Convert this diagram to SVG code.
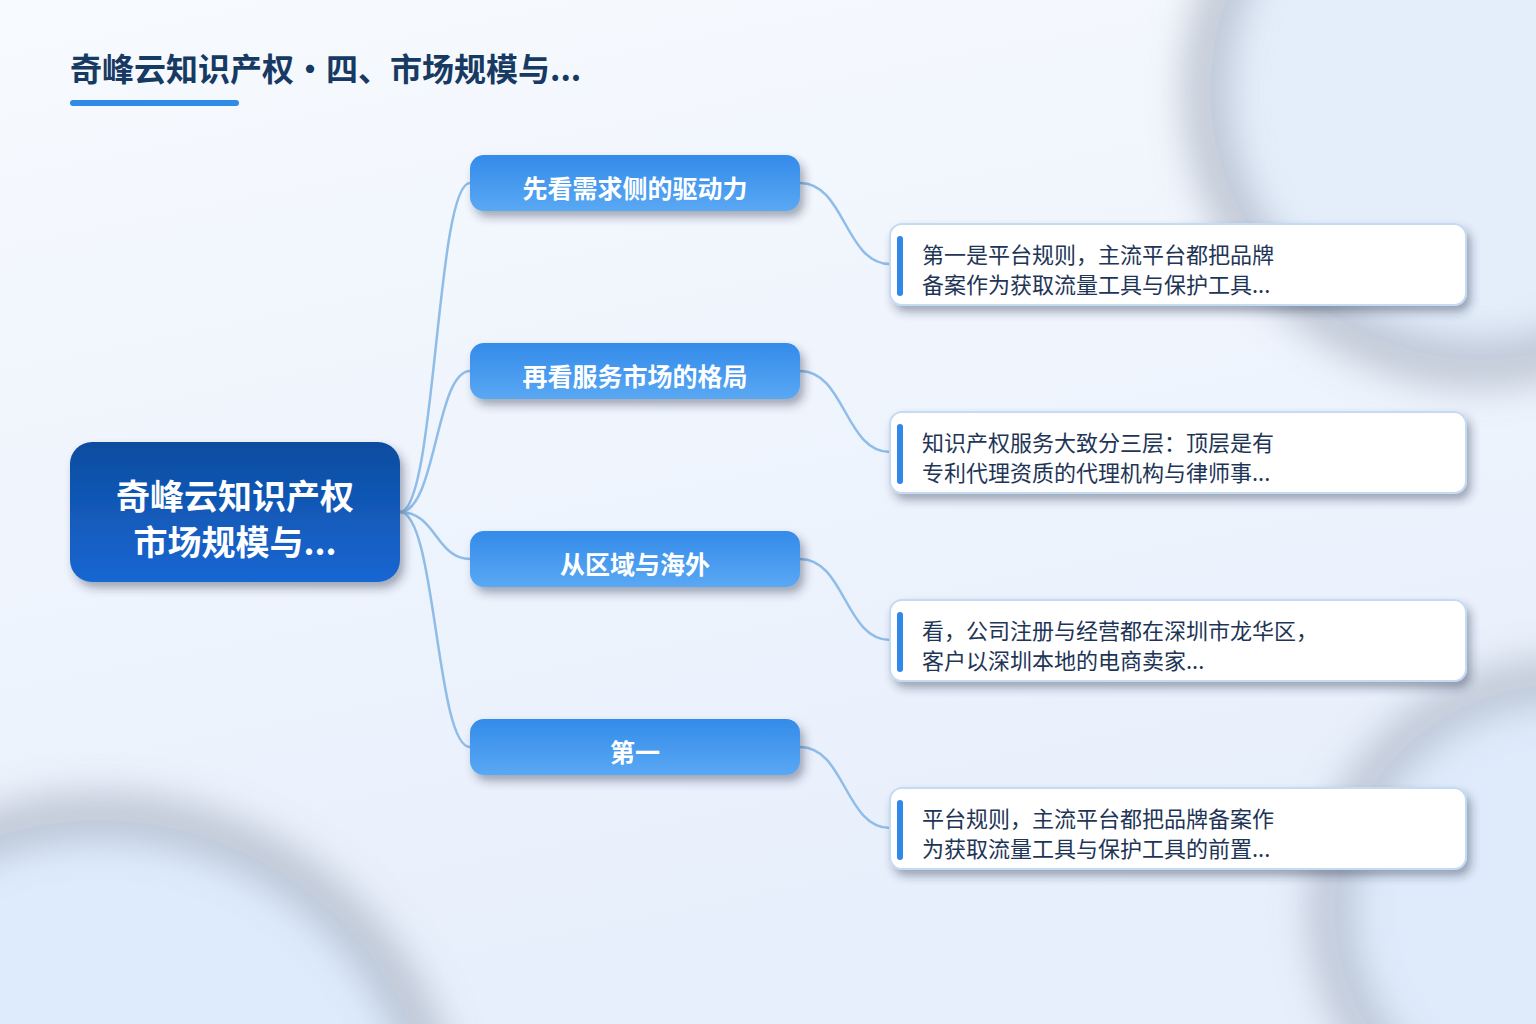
<svg xmlns="http://www.w3.org/2000/svg" width="1536" height="1024" viewBox="0 0 1536 1024">
<defs>
<linearGradient id="bg" x1="0" y1="0" x2="0.3" y2="1">
<stop offset="0" stop-color="#f7fafe"/>
<stop offset="1" stop-color="#e7effc"/>
</linearGradient>
<linearGradient id="rootG" x1="0" y1="0" x2="0" y2="1">
<stop offset="0" stop-color="#0d4c9f"/>
<stop offset="1" stop-color="#1767d3"/>
</linearGradient>
<linearGradient id="brG" x1="0" y1="0" x2="0" y2="1">
<stop offset="0" stop-color="#338be9"/>
<stop offset="1" stop-color="#5aa8f4"/>
</linearGradient>
<filter id="blurRing" x="-30%" y="-30%" width="160%" height="160%">
<feGaussianBlur stdDeviation="20"/>
</filter>
<filter id="sh" x="-10%" y="-20%" width="125%" height="160%">
<feDropShadow dx="4" dy="6" stdDeviation="5" flood-color="#22324a" flood-opacity="0.4"/>
</filter>
<style>
.title{font-family:"Noto Sans CJK SC","Noto Sans",sans-serif;font-weight:700;font-size:32px;fill:#173a63}
.rootT{font-family:"Noto Sans CJK SC","Noto Sans",sans-serif;font-weight:700;font-size:34px;fill:#ffffff;text-anchor:middle}
.brT{font-family:"Noto Sans CJK SC","Noto Sans",sans-serif;font-weight:700;font-size:25px;fill:#ffffff;text-anchor:middle}
.lfT{font-family:"Noto Sans CJK SC","Noto Sans",sans-serif;font-weight:400;font-size:22px;fill:#1e3556}
.branch{fill:url(#brG);filter:url(#sh)}
.leaf{fill:#ffffff;stroke:#c4dbf4;stroke-width:2;filter:url(#sh)}
.bar{fill:#2f88ea}
.conn{fill:none;stroke:#8fbde8;stroke-width:2.5}
.ring{fill:none;stroke:#aab4c3;stroke-width:38;filter:url(#blurRing)}
</style>
</defs>
<rect width="1536" height="1024" fill="url(#bg)"/>
<g id="background">
<circle cx="1480" cy="90" r="270" fill="#e4eefb"/>
<circle class="ring" cx="1480" cy="90" r="274" opacity="0.85"/>
<circle cx="100" cy="1160" r="340" fill="#deebfc"/>
<circle class="ring" cx="100" cy="1160" r="344" opacity="0.85"/>
<circle cx="1560" cy="910" r="225" fill="#dfebfb"/>
<circle class="ring" cx="1560" cy="910" r="229" opacity="0.8"/>
</g>
<g id="title">
<text class="title" x="70" y="81">奇峰云知识产权・四、市场规模与...</text>
<rect x="70" y="100" width="169" height="6" rx="3" fill="#2f8ae8"/>
</g>
<g id="connectors">
<path class="conn" d="M400,512 C436,512 436,183 470,183"/>
<path class="conn" d="M400,512 C436,512 436,371 470,371"/>
<path class="conn" d="M400,512 C436,512 436,559 470,559"/>
<path class="conn" d="M400,512 C436,512 436,747 470,747"/>
<path class="conn" d="M800,183 C845,183 845,264 890,264"/>
<path class="conn" d="M800,371 C845,371 845,452 890,452"/>
<path class="conn" d="M800,559 C845,559 845,640 890,640"/>
<path class="conn" d="M800,747 C845,747 845,828 890,828"/>
</g>
<g id="root">
<rect x="70" y="442" width="330" height="140" rx="22" fill="url(#rootG)" filter="url(#sh)"/>
<text class="rootT" x="235" y="509">奇峰云知识产权</text>
<text class="rootT" x="235" y="555">市场规模与...</text>
</g>
<g id="branch1">
<rect class="branch" x="470" y="155" width="330" height="56" rx="14"/>
<text class="brT" x="635" y="198">先看需求侧的驱动力</text>
</g>
<g id="branch2">
<rect class="branch" x="470" y="343" width="330" height="56" rx="14"/>
<text class="brT" x="635" y="386">再看服务市场的格局</text>
</g>
<g id="branch3">
<rect class="branch" x="470" y="531" width="330" height="56" rx="14"/>
<text class="brT" x="635" y="574">从区域与海外</text>
</g>
<g id="branch4">
<rect class="branch" x="470" y="719" width="330" height="56" rx="14"/>
<text class="brT" x="635" y="762">第一</text>
</g>
<g id="leaf1">
<rect class="leaf" x="890" y="224" width="576" height="81" rx="12"/>
<rect class="bar" x="897" y="236" width="6" height="60" rx="3"/>
<text class="lfT" x="922" y="263">第一是平台规则，主流平台都把品牌</text>
<text class="lfT" x="922" y="293">备案作为获取流量工具与保护工具...</text>
</g>
<g id="leaf2">
<rect class="leaf" x="890" y="412" width="576" height="81" rx="12"/>
<rect class="bar" x="897" y="424" width="6" height="60" rx="3"/>
<text class="lfT" x="922" y="451">知识产权服务大致分三层：顶层是有</text>
<text class="lfT" x="922" y="481">专利代理资质的代理机构与律师事...</text>
</g>
<g id="leaf3">
<rect class="leaf" x="890" y="600" width="576" height="81" rx="12"/>
<rect class="bar" x="897" y="612" width="6" height="60" rx="3"/>
<text class="lfT" x="922" y="639">看，公司注册与经营都在深圳市龙华区，</text>
<text class="lfT" x="922" y="669">客户以深圳本地的电商卖家...</text>
</g>
<g id="leaf4">
<rect class="leaf" x="890" y="788" width="576" height="81" rx="12"/>
<rect class="bar" x="897" y="800" width="6" height="60" rx="3"/>
<text class="lfT" x="922" y="827">平台规则，主流平台都把品牌备案作</text>
<text class="lfT" x="922" y="857">为获取流量工具与保护工具的前置...</text>
</g>
</svg>
